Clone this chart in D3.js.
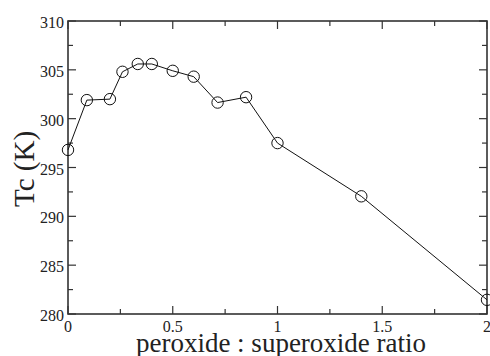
<!DOCTYPE html>
<html>
<head>
<meta charset="utf-8">
<script src="https://cdn.jsdelivr.net/npm/d3@7"></script>
<style>
  body { margin: 0; background: #fff; }
</style>
</head>
<body>
<svg id="chart" width="490" height="356"></svg>
<script>
// peroxide : superoxide ratio vs Tc
const ratio = [0, 0.09, 0.2, 0.26, 0.333, 0.4, 0.5, 0.6, 0.714, 0.85, 1.0, 1.4, 2.0];
const tc = [296.8, 301.9, 302.0, 304.8, 305.6, 305.6, 304.9, 304.3, 301.65, 302.2, 297.5, 292.05, 281.45];
const xTicks = [0, 0.5, 1, 1.5, 2];
const xTickLabels = ["0", "0.5", "1", "1.5", "2"];
const yTicks = [280, 285, 290, 295, 300, 305, 310];

const serif = "Liberation Serif";
const svg = d3.select("#chart");
const mLeft = 68, mRight = 487, mTop = 21, mBottom = 314;

const x = d3.scaleLinear().domain([0, 2]).range([mLeft, mRight]);
const y = d3.scaleLinear().domain([280, 310]).range([mBottom, mTop]);

const minorX = d3.range(0.25, 2, 0.5);
const minorY = d3.range(282.5, 310, 5);

// ticks pointing inward on all four sides
const ticks = svg.append("g").attr("stroke", "#333").attr("stroke-width", 1.2);
function tickX(v, len) {
  ticks.append("line").attr("x1", x(v)).attr("x2", x(v)).attr("y1", mBottom).attr("y2", mBottom - len);
  ticks.append("line").attr("x1", x(v)).attr("x2", x(v)).attr("y1", mTop).attr("y2", mTop + len);
}
function tickY(v, len) {
  ticks.append("line").attr("x1", mLeft).attr("x2", mLeft + len).attr("y1", y(v)).attr("y2", y(v));
  ticks.append("line").attr("x1", mRight).attr("x2", mRight - len).attr("y1", y(v)).attr("y2", y(v));
}
xTicks.forEach(v => tickX(v, 8));
minorX.forEach(v => tickX(v, 5));
yTicks.forEach(v => tickY(v, 8));
minorY.forEach(v => tickY(v, 5));

svg.append("rect")
  .attr("x", mLeft).attr("y", mTop)
  .attr("width", mRight - mLeft).attr("height", mBottom - mTop)
  .attr("fill", "none").attr("stroke", "#333").attr("stroke-width", 1.6);

// tick labels
svg.append("g").selectAll("text").data(xTicks).join("text")
  .attr("x", d => x(d)).attr("y", mBottom + 18)
  .attr("text-anchor", "middle").attr("font-size", 16)
  .attr("font-family", serif).attr("fill", "#222")
  .text((d, i) => xTickLabels[i]);

svg.append("g").selectAll("text").data(yTicks).join("text")
  .attr("x", mLeft - 4).attr("y", d => y(d) + 7)
  .attr("text-anchor", "end").attr("font-size", 16)
  .attr("font-family", serif).attr("fill", "#222")
  .text(d => d);

// axis titles
svg.append("text")
  .attr("x", 281).attr("y", 352)
  .attr("text-anchor", "middle").attr("font-size", 27)
  .attr("font-family", serif).attr("fill", "#222")
  .text("peroxide : superoxide ratio");

svg.append("text")
  .attr("transform", `translate(34,169) rotate(-90)`)
  .attr("text-anchor", "middle").attr("font-size", 29)
  .attr("font-family", serif).attr("fill", "#222")
  .text("Tc (K)");

// data line + markers
const pts = ratio.map((r, i) => [r, tc[i]]);
svg.append("path")
  .datum(pts)
  .attr("fill", "none").attr("stroke", "#111").attr("stroke-width", 1)
  .attr("d", d3.line().x(d => x(d[0])).y(d => y(d[1])));

svg.append("g").selectAll("circle").data(pts).join("circle")
  .attr("cx", d => x(d[0])).attr("cy", d => y(d[1])).attr("r", 5.7)
  .attr("fill", "none").attr("stroke", "#111").attr("stroke-width", 1);
</script>
</body>
</html>
